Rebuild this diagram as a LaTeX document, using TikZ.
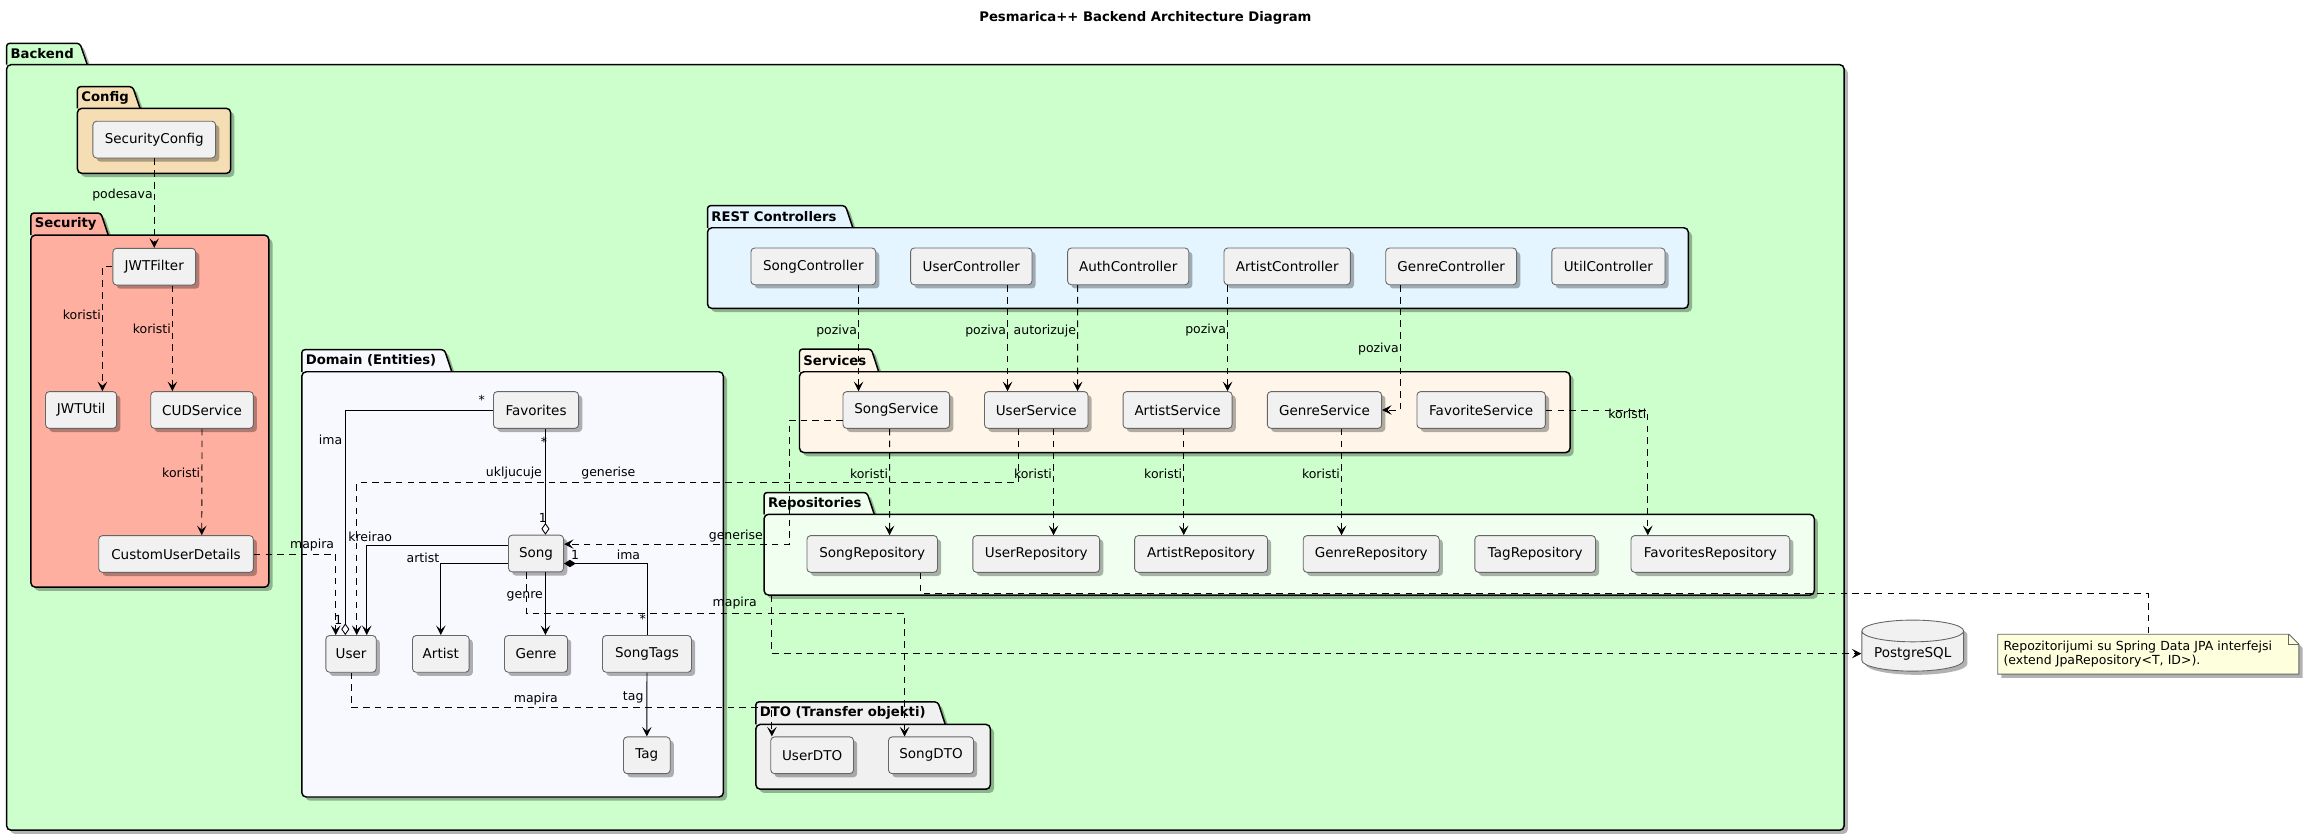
\documentclass[tikz,border=0pt]{standalone}
\usepackage{fontspec}
\setmainfont{DejaVu Sans}
\usetikzlibrary{arrows.meta,shadows,shapes.geometric}
\tikzset{>={Stealth[length=6.5pt,width=6.5pt,inset=2.8pt]}}

\definecolor{backendgreen}{RGB}{204,255,204}
\definecolor{configtan}{RGB}{245,222,179}
\definecolor{securityred}{RGB}{255,175,160}
\definecolor{domainwhite}{RGB}{248,248,255}
\definecolor{restblue}{RGB}{228,245,255}
\definecolor{servicecream}{RGB}{255,245,232}
\definecolor{repogreen}{RGB}{240,255,240}
\definecolor{dtogray}{RGB}{240,240,240}
\definecolor{nodegray}{RGB}{241,241,241}
\definecolor{notecream}{RGB}{254,255,221}

\tikzset{
  softshadow/.style={drop shadow={shadow xshift=2.5pt, shadow yshift=-2.5pt, opacity=0.3, fill=black}},
  cls/.style={draw=black!60, fill=nodegray, rounded corners=2.5pt, line width=0.6pt,
    minimum height=25pt, inner xsep=2pt, font=\fontsize{9.2}{11}\selectfont, softshadow},
  db/.style={cylinder, shape border rotate=90, aspect=0.25, draw=black!60, fill=nodegray,
    line width=0.6pt, font=\fontsize{9.2}{11}\selectfont, softshadow},
  pkgline/.style={draw=black, line width=1pt, softshadow},
  pkgtitle/.style={font=\bfseries\fontsize{9}{11}\selectfont, inner sep=0pt},
  lbl/.style={font=\fontsize{8.5}{10}\selectfont, inner sep=0.8pt},
  dep/.style={->, line width=0.6pt, dash pattern=on 4.5pt off 3.5pt},
  assoc/.style={->, line width=0.6pt},
  aggr/.style={{Diamond[open, fill=white, length=8pt, width=5.5pt]}-, line width=0.6pt},
  comp/.style={{Diamond[length=8pt, width=5pt]}-, line width=0.6pt},
  notelink/.style={line width=0.6pt, dash pattern=on 4.5pt off 3.5pt},
  notebox/.style={text width=197pt, minimum height=27.2pt, align=left, inner xsep=4pt,
    font=\fontsize{8.5}{9.8}\selectfont},
}

% package: left, tab top, tab right, body top, right, bottom, colour, title
\newcommand{\pkgbox}[8]{%
  \draw[pkgline, fill=#7, rounded corners=2pt] (#1,#4) -- (#1,#2) -- (#3-5,#2) -- (#3,#4);
  \draw[pkgline, fill=#7, rounded corners=3pt] (#1,#4) rectangle (#5,#6);
  \node[pkgtitle, anchor=west] at (#1+2.5,{(#2+#4)/2}) {#8};
}

\begin{document}
\begin{tikzpicture}[x=1pt,y=-1pt]
\useasboundingbox (0,0) rectangle (1568,568.3);

% Title
\node[font=\bfseries\fontsize{9}{11}\selectfont] (title) at (779.5,12.5) {Pesmarica++ Backend Architecture Diagram};

% Packages
\pkgbox{4.5}{29.5}{59.4}{44}{1255}{565}{backendgreen}{Backend}
\pkgbox{52.7}{59}{95.3}{73.7}{157}{118}{configtan}{Config}
\pkgbox{21}{145}{73.7}{160}{183}{399.6}{securityred}{Security}
\pkgbox{205.4}{238}{307.5}{253}{492.3}{542.4}{domainwhite}{Domain (Entities)}
\pkgbox{481.5}{140}{580.4}{155}{1149}{209.9}{restblue}{REST Controllers}
\pkgbox{544.1}{237.6}{598}{253}{1068.5}{308}{servicecream}{Services}
\pkgbox{520}{335.2}{595}{350}{1234.7}{405}{repogreen}{Repositories}
\pkgbox{514.4}{477.7}{643.3}{493}{674}{537.1}{dtogray}{DTO (Transfer objekti)}

% Config and Security
\node[cls, minimum width=83.5pt] (securityconfig) at (105,95) {SecurityConfig};
\node[cls, minimum width=56.3pt] (jwtfilter) at (105,181.5) {JWTFilter};
\node[cls, minimum width=48.4pt] (jwtutil) at (55.2,279) {JWTUtil};
\node[cls, minimum width=69.8pt] (cudservice) at (137.5,279) {CUDService};
\node[cls, minimum width=105.2pt] (customuserdetails) at (119.8,377) {CustomUserDetails};

% Domain entities
\node[cls, minimum width=57.9pt] (favorites) at (364.8,279) {Favorites};
\node[cls, minimum width=37.5pt] (song) at (364.8,376.7) {Song};
\node[cls, minimum width=34.3pt] (user) at (238.9,445) {User};
\node[cls, minimum width=38.6pt] (artist) at (300,445) {Artist};
\node[cls, minimum width=42.9pt] (genre) at (364.8,445) {Genre};
\node[cls, minimum width=60.6pt] (songtags) at (440.3,445) {SongTags};
\node[cls, minimum width=31.8pt] (tag) at (440.2,514) {Tag};

% REST controllers
\node[cls, minimum width=84.9pt] (songcontroller) at (553.5,181.3) {SongController};
\node[cls, minimum width=82.6pt] (usercontroller) at (661,181.3) {UserController};
\node[cls, minimum width=82.4pt] (authcontroller) at (767.8,181.3) {AuthController};
\node[cls, minimum width=86pt] (artistcontroller) at (876,181.3) {ArtistController};
\node[cls, minimum width=89pt] (genrecontroller) at (987.6,181.3) {GenreController};
\node[cls, minimum width=77pt] (utilcontroller) at (1094.6,181.3) {UtilController};

% Services
\node[cls, minimum width=72.6pt] (songservice) at (610,279) {SongService};
\node[cls, minimum width=70.4pt] (userservice) at (705.2,279) {UserService};
\node[cls, minimum width=74.2pt] (artistservice) at (801.4,279) {ArtistService};
\node[cls, minimum width=77.8pt] (genreservice) at (901.4,279) {GenreService};
\node[cls, minimum width=87.4pt] (favoriteservice) at (1008,279) {FavoriteService};

% Repositories
\node[cls, minimum width=88.8pt] (songrepository) at (593.6,377) {SongRepository};
\node[cls, minimum width=86.3pt] (userrepository) at (705.2,377) {UserRepository};
\node[cls, minimum width=90.4pt] (artistrepository) at (817.4,377) {ArtistRepository};
\node[cls, minimum width=92.5pt] (genrerepository) at (933.2,377) {GenreRepository};
\node[cls, minimum width=82.1pt] (tagrepository) at (1044.8,377) {TagRepository};
\node[cls, minimum width=108pt] (favoritesrepository) at (1164,377) {FavoritesRepository};

% DTO
\node[cls, minimum width=56.3pt] (userdto) at (552.7,514) {UserDTO};
\node[cls, minimum width=57.9pt] (songdto) at (633.6,514) {SongDTO};

% Database and note
\node[db, minimum width=69.3pt, minimum height=29.5pt] (postgresql) at (1301.7,444.8) {PostgreSQL};
\draw[draw=black!60, fill=notecream, line width=0.6pt, softshadow]
  (1359.6,431.6) -- (1557.7,431.6) -- (1564.5,438.4) -- (1564.5,458.8) -- (1359.6,458.8) -- cycle;
\draw[draw=black!60, line width=0.6pt] (1557.7,431.6) -- (1557.7,438.4) -- (1564.5,438.4);
\node[notebox] (note) at (1462,445.2) {Repozitorijumi su Spring Data JPA interfejsi\\(extend JpaRepository<T, ID>).};

% Config -> Security
\draw[dep] (securityconfig) -- (jwtfilter) node[lbl, anchor=east] at (105,133) {podesava};
\draw[dep] (jwtfilter.west) -| ([xshift=14.5pt]jwtutil.north) node[lbl, anchor=east] at (69.7,214) {koristi};
\draw[dep] ([xshift=12.3pt]jwtfilter.south) -- ([xshift=-20.2pt]cudservice.north) node[lbl, anchor=east] at (117.3,224) {koristi};
\draw[dep] (cudservice.south) -- ([xshift=17.5pt]customuserdetails.north) node[lbl, anchor=east] at (137.3,322) {koristi};
\draw[dep] (customuserdetails.east) -| ([xshift=-10.4pt]user.north) node[lbl, anchor=east] at (228.5,371) {mapira};

% Domain relations
\draw[aggr] ([xshift=-3.9pt]user.north) |- (favorites.west)
  node[lbl, anchor=east] at (234,299.5) {ima}
  node[lbl] at (230.3,422) {1}
  node[lbl] at (327.9,271.8) {*};
\draw[aggr] ([xshift=6.4pt]song.north) -- ([xshift=6.4pt]favorites.south)
  node[lbl, anchor=east] at (369.9,322.2) {ukljucuje}
  node[lbl] at (369.4,352.8) {1}
  node[lbl] at (370.3,300.7) {*};
\draw[assoc] ([yshift=5.5pt]song.west) -| ([xshift=10.7pt]user.north) node[lbl, anchor=west] at (236,365.3) {kreirao};
\draw[assoc] ([yshift=-6.8pt]song.west) -| (artist.north) node[lbl, anchor=east] at (300,379.6) {artist};
\draw[assoc] ([xshift=6.4pt]song.south) -- ([xshift=6.4pt]genre.north) node[lbl, anchor=east] at (370.5,405.5) {genre};
\draw[comp] ([yshift=-6.8pt]song.east) -| (songtags.north)
  node[lbl] at (427.7,377.3) {ima}
  node[lbl] at (391.4,377.8) {1}
  node[lbl] at (437.5,421) {*};
\draw[assoc] (songtags) -- (tag) node[lbl, anchor=east] at (439,474.3) {tag};

% Entities -> DTO
\draw[dep] (user.south) -- ++(0,23.8) -| ([xshift=-27.4pt]userdto.north) node[lbl] at (364.7,475.4) {mapira};
\draw[dep] ([xshift=-6.3pt]song.south) -- ++(0,28.1) -| ([xshift=-18pt]songdto.north) node[lbl] at (500,410.7) {mapira};

% Services -> Entities
\draw[dep] ([xshift=-12pt]userservice.south) -- ++(0,36.7) -| ([xshift=3.9pt]user.north) node[lbl] at (414,322.2) {generise};
\draw[dep] ([yshift=-6.9pt]songservice.west) -- ++(-36.3,0) |- ([yshift=6.4pt]song.east) node[lbl] at (500.8,364.7) {generise};

% Controllers -> Services
\draw[dep] ([xshift=30.8pt]songcontroller.south) -- ([xshift=-25.7pt]songservice.north) node[lbl, anchor=east] at (584.3,225.3) {poziva};
\draw[dep] ([xshift=24.7pt]usercontroller.south) -- ([xshift=-19.5pt]userservice.north) node[lbl, anchor=east] at (685.7,225.3) {poziva};
\draw[dep] ([xshift=-34.4pt]authcontroller.south) -- ([xshift=28.2pt]userservice.north) node[lbl, anchor=east] at (733.4,225.3) {autorizuje};
\draw[dep] ([xshift=-40.6pt]artistcontroller.south) -- ([xshift=34pt]artistservice.north) node[lbl, anchor=east] at (835.4,224.6) {poziva};
\draw[dep] ([xshift=-34.6pt]genrecontroller.south) |- (genreservice.east) node[lbl, anchor=east] at (953,237.6) {poziva};

% Services -> Repositories
\draw[dep] ([xshift=-4.6pt]songservice.south) -- ([xshift=11.8pt]songrepository.north) node[lbl, anchor=east] at (605.4,322.2) {koristi};
\draw[dep] ([xshift=11.8pt]userservice.south) -- ([xshift=11.8pt]userrepository.north) node[lbl, anchor=east] at (717,322.2) {koristi};
\draw[dep] ([xshift=4.2pt]artistservice.south) -- ([xshift=-11.8pt]artistrepository.north) node[lbl, anchor=east] at (805.6,322.2) {koristi};
\draw[dep] ([xshift=11.6pt]genreservice.south) -- ([xshift=-20.2pt]genrerepository.north) node[lbl, anchor=east] at (913,322.2) {koristi};
\draw[dep] (favoriteservice.east) -| ([xshift=-42.6pt]favoritesrepository.north) node[lbl, anchor=east] at (1121.5,281.4) {koristi};

% Repositories -> database, note
\coordinate (repobottom) at (525.3,405);
\draw[dep] (repobottom) |- (postgresql.west);
\draw[notelink] ([xshift=33pt]songrepository.south) -- ++(0,14) -| (note.north);

\end{tikzpicture}
\end{document}
